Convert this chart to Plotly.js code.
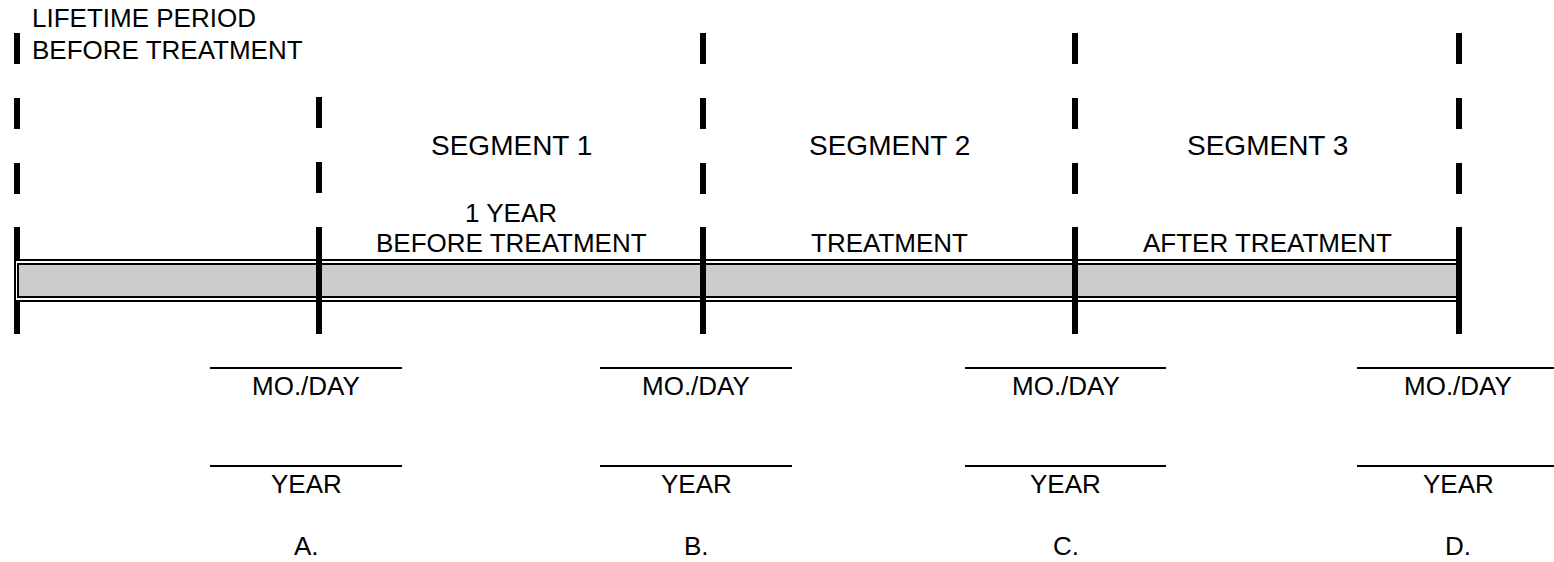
<!DOCTYPE html>
<html><head><meta charset="utf-8">
<script src="https://cdn.plot.ly/plotly-3.0.1.min.js"></script>
<style>html,body{margin:0;padding:0;background:#fff}#chart{width:1554px;height:562px}</style>
</head><body><div id="chart"></div>
<script>
// ---- content ----
const dividerX = [17, 319, 703, 1075, 1459];          // time points A..D boundaries
const dividerHasTopDash = [true, false, true, true, true];
const segmentTitles = ["SEGMENT 1", "SEGMENT 2", "SEGMENT 3"];
const segmentDescLine1 = ["1 YEAR", "", ""];
const segmentDescLine2 = ["BEFORE TREATMENT", "TREATMENT", "AFTER TREATMENT"];
const lifetimeLabel = ["LIFETIME PERIOD", "BEFORE TREATMENT"];
const pointLabels = ["A.", "B.", "C.", "D."];
const dateFieldStart = [210, 600, 965, 1357];
const dateFieldEnd = [402, 792, 1166, 1559];
const dateFieldLabels = ["MO./DAY", "YEAR"];

// ---- layout constants ----
const FONT = "Liberation Sans, Arial, Helvetica, sans-serif";
const DASH_TOP = 33, DASH2_TOP = 97, DASH_BOTTOM = 194, SOLID_TOP = 227, SOLID_BOTTOM = 334;
const BAR_OUT_TOP = 260, BAR_OUT_BOT = 301, BAR_IN_TOP = 264, BAR_IN_BOT = 297;
const FIELD_LINE_Y = [368, 466], FIELD_TEXT_Y = [386, 484], POINT_Y = 562;

const shapes = [];
const annotations = [];
const black = "#000";

// bar (double border)
shapes.push({type: "rect", xref: "x", yref: "y", x0: dividerX[0] - 2, x1: dividerX[dividerX.length - 1],
  y0: BAR_OUT_TOP, y1: BAR_OUT_BOT, line: {color: black, width: 2}, fillcolor: "rgba(0,0,0,0)", layer: "above"});
shapes.push({type: "rect", xref: "x", yref: "y", x0: dividerX[0] + 1, x1: dividerX[dividerX.length - 1],
  y0: BAR_IN_TOP, y1: BAR_IN_BOT, line: {color: black, width: 2}, fillcolor: "#cccccc", layer: "above"});

// dividers
dividerX.forEach((x, i) => {
  const top = dividerHasTopDash[i] ? DASH_TOP : DASH2_TOP;
  shapes.push({type: "line", xref: "x", yref: "y", x0: x, x1: x, y0: top, y1: DASH_BOTTOM,
    line: {color: black, width: 6, dash: "31px,34px"}, layer: "above"});
  if (i === 0) {
    shapes.push({type: "line", xref: "x", yref: "y", x0: x, x1: x, y0: SOLID_TOP, y1: BAR_OUT_TOP - 1,
      line: {color: black, width: 6}, layer: "above"});
    shapes.push({type: "line", xref: "x", yref: "y", x0: x, x1: x, y0: BAR_OUT_BOT + 1, y1: SOLID_BOTTOM,
      line: {color: black, width: 6}, layer: "above"});
  } else {
    shapes.push({type: "line", xref: "x", yref: "y", x0: x, x1: x, y0: SOLID_TOP, y1: SOLID_BOTTOM,
      line: {color: black, width: 6}, layer: "above"});
  }
});

function txt(text, x, y, size, xanchor, yanchor) {
  annotations.push({text: text, x: x, y: y, xref: "x", yref: "y", showarrow: false, borderpad: 0,
    xanchor: xanchor || "center", yanchor: yanchor || "middle", font: {family: FONT, size: size, color: "#000"}});
}

// lifetime label
txt(lifetimeLabel[0], 31, 17.5, 26, "left");
txt(lifetimeLabel[1], 31, 49.5, 26, "left");

// segments
segmentTitles.forEach((t, i) => {
  const cx = (dividerX[i + 1] + dividerX[i + 2]) / 2;
  txt(t, cx, 145, 28);
  if (segmentDescLine1[i]) txt(segmentDescLine1[i], cx, 212.5, 26);
  txt(segmentDescLine2[i], cx, 243, 26);
});

// date fields
pointLabels.forEach((p, i) => {
  const cx = (dateFieldStart[i] + dateFieldEnd[i]) / 2;
  FIELD_LINE_Y.forEach((ly, k) => {
    shapes.push({type: "line", xref: "x", yref: "y", x0: dateFieldStart[i], x1: dateFieldEnd[i], y0: ly, y1: ly,
      line: {color: black, width: 2}, layer: "above"});
    txt(dateFieldLabels[k], cx, FIELD_TEXT_Y[k], 26);
  });
  txt(p, cx, POINT_Y, 26, "center", "bottom");
});

const layout = {
  width: 1554, height: 562,
  margin: {l: 0, r: 0, t: 0, b: 0, pad: 0},
  paper_bgcolor: "#fff", plot_bgcolor: "#fff",
  showlegend: false,
  xaxis: {range: [0, 1554], visible: false, fixedrange: true},
  yaxis: {range: [562, 0], visible: false, fixedrange: true},
  shapes: shapes,
  annotations: annotations
};

Plotly.newPlot("chart", [{x: [], y: [], type: "scatter", mode: "lines", hoverinfo: "skip"}], layout,
  {staticPlot: true, displayModeBar: false});
</script>
</body></html>
